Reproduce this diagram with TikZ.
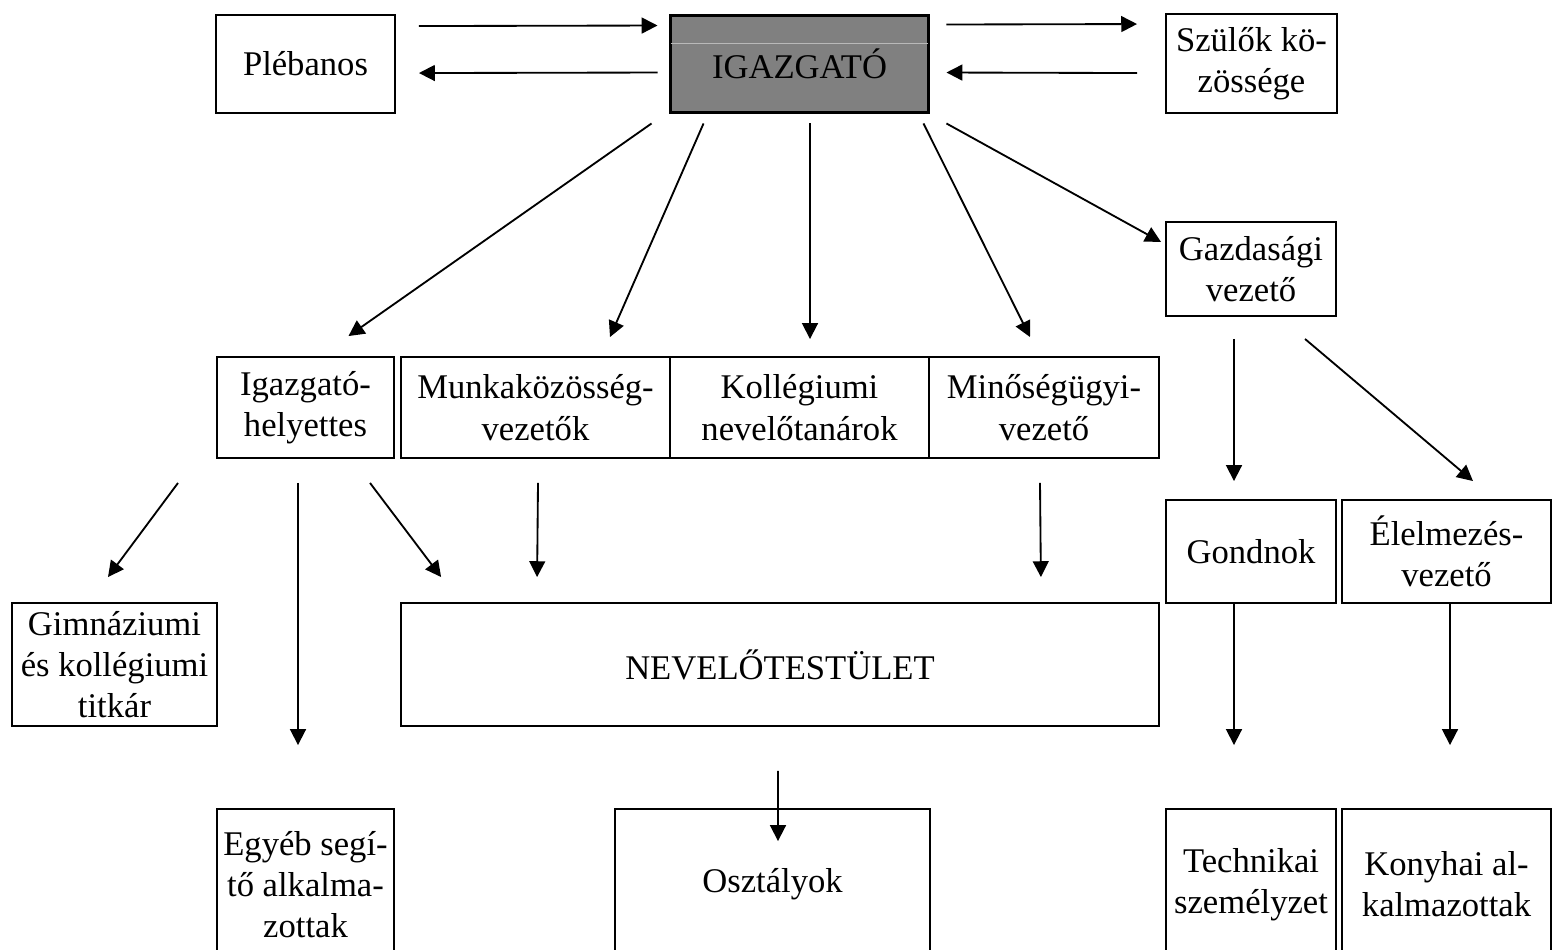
\documentclass[tikz,border=0pt]{standalone}
\usepackage{fontspec}
\setmainfont{Liberation Serif}
\usetikzlibrary{arrows.meta, calc}

\begin{document}
\begin{tikzpicture}[x=0.02cm, y=-0.02cm,
    box/.style={rectangle, draw, line width=1.1pt, align=center, inner sep=2pt, font=\fontsize{19.7pt}{23.5pt}\selectfont},
    arrow/.style={-{Triangle[length=9pt, width=9pt]}, line width=1.05pt},
]
\clip (0,0) rectangle (1552,950);

% top row
\node[box, minimum width=3.58cm, minimum height=1.96cm] (pleb) at (305.5,64) {Plébanos};
\node[box, fill=black!50, line width=1.7pt, minimum width=5.18cm, minimum height=1.96cm] (igaz) at (799.5,64) {IGAZGATÓ};
\node[box, minimum width=3.42cm, minimum height=1.98cm] (szulo) at (1251.5,63.5) {Szülők kö-\\zössége};
\draw[gray!55, line width=0.5pt] ([shift={(2,30)}]igaz.north west) -- ([shift={(-2,30)}]igaz.north east);

\node[box, minimum width=3.40cm, minimum height=1.88cm] (gazd) at (1251,269) {Gazdasági\\vezető};

% middle row
\node[box, minimum width=3.54cm, minimum height=2.02cm] (helyet) at (305.5,407.5) {Igazgató-\\helyettes};
\node[box, minimum width=5.38cm, minimum height=2.02cm] (munka) at (535.5,407.5) {Munkaközösség-\\vezetők};
\node[box, minimum width=5.18cm, minimum height=2.02cm] (koll) at (799.5,407.5) {Kollégiumi\\nevelőtanárok};
\node[box, minimum width=4.60cm, minimum height=2.02cm] (minos) at (1044,407.5) {Minőségügyi-\\vezető};

\node[box, minimum width=3.40cm, minimum height=2.06cm] (gond) at (1251,551.5) {Gondnok};
\node[box, minimum width=4.18cm, minimum height=2.06cm] (elelm) at (1446.5,551.5) {Élelmezés-\\vezető};

\node[box, minimum width=4.10cm, minimum height=2.46cm] (gimn) at (114.5,664.5) {Gimnáziumi\\és kollégiumi\\titkár};
\node[box, minimum width=15.16cm, minimum height=2.46cm] (nevelo) at (780,664.5) {NEVELŐTESTÜLET};

% bottom row
\node[box, minimum width=3.54cm, minimum height=3.02cm] (egyeb) at (305.5,884.5) {Egyéb segí-\\tő alkalma-\\zottak};
\node[box, minimum width=6.30cm, minimum height=3.02cm] (oszt) at (772.5,884.5) {Osztályok};
\node[box, minimum width=3.40cm, minimum height=3.02cm] (techn) at (1251,884.5) {Technikai\\személyzet};
\node[box, minimum width=4.18cm, minimum height=3.02cm] (konyh) at (1446.5,884.5) {Konyhai al-\\kalmazottak};

\draw[arrow] ([shift={(23,12)}]pleb.north east) -- ([shift={(-11,12)}]igaz.north west);
\draw[arrow] ([shift={(-11,59)}]igaz.north west) -- ([shift={(23,59)}]pleb.north east);
\draw[arrow] ([shift={(16,11)}]igaz.north east) -- ([shift={(-28,11)}]szulo.north west);
\draw[arrow] ([shift={(-28,60)}]szulo.north west) -- ([shift={(16,59)}]igaz.north east);

\draw[arrow] ([shift={(-17,9)}]igaz.south west) -- ([shift={(43,-20)}]helyet.north);
\draw[arrow] ([shift={(35,9)}]igaz.south west) -- ([shift={(74.5,-19)}]munka.north);
\draw[arrow] ([shift={(10.5,9)}]igaz.south) -- ([shift={(10.5,-17)}]koll.north);
\draw[arrow] ([shift={(-7,9)}]igaz.south east) -- ([shift={(-14,-19)}]minos.north);
\draw[arrow] ([shift={(16,9)}]igaz.south east) -- ([shift={(-4,-27)}]gazd.west);

\draw[arrow] ([shift={(-17,22)}]gazd.south) -- ([shift={(-17,-18)}]gond.north);
\draw[arrow] ([shift={(54,22)}]gazd.south) -- ([shift={(26.5,-18)}]elelm.north);

\draw[arrow] ([shift={(-127.5,24)}]helyet.south) -- ([shift={(-6.5,-25)}]gimn.north);
\draw[arrow] ([shift={(-7.5,24)}]helyet.south) -- ([shift={(-7.5,-63)}]egyeb.north);
\draw[arrow] ([shift={(64.5,24)}]helyet.south) -- ([shift={(41,-25)}]nevelo.north west);
\draw[arrow] ([shift={(2.5,24)}]munka.south) -- ([shift={(137,-25)}]nevelo.north west);
\draw[arrow] ([shift={(-4,24)}]minos.south) -- ([shift={(-119,-25)}]nevelo.north east);

\draw[arrow] ([shift={(-17,0)}]gond.south) -- ([shift={(-17,-63)}]techn.north);
\draw[arrow] ([shift={(3.5,0)}]elelm.south) -- ([shift={(3.5,-63)}]konyh.north);
\draw[arrow] ([shift={(-2,44)}]nevelo.south) -- ([shift={(5.5,33)}]oszt.north);

\end{tikzpicture}
\end{document}
